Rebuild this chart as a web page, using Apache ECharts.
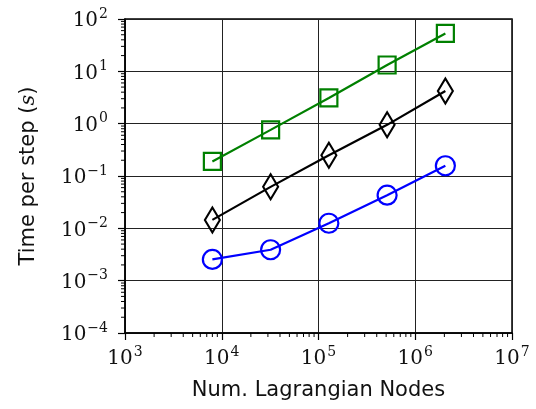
<!DOCTYPE html>
<html><head><meta charset="utf-8">
<script src="https://cdn.jsdelivr.net/npm/echarts@6/dist/echarts.min.js"></script>
<style>html,body{margin:0;padding:0;background:#fff}#c{width:536px;height:409px}</style>
</head><body><div id="c"></div>
<script>
const nodes = [8000, 32000, 128000, 512000, 2048000];
const greenTimes = [0.19, 0.76, 3.1, 13.2, 53];
const blackTimes = [0.0145, 0.062, 0.25, 0.95, 4.2];
const blueTimes = [0.00255, 0.0039, 0.0125, 0.043, 0.157];
const xMinorTicks = [2e3,3e3,4e3,5e3,6e3,7e3,8e3,9e3,2e4,3e4,4e4,5e4,6e4,7e4,8e4,9e4,2e5,3e5,4e5,5e5,6e5,7e5,8e5,9e5,2e6,3e6,4e6,5e6,6e6,7e6,8e6,9e6];
const yMinorTicks = [2e-4,3e-4,4e-4,5e-4,6e-4,7e-4,8e-4,9e-4,2e-3,3e-3,4e-3,5e-3,6e-3,7e-3,8e-3,9e-3,2e-2,3e-2,4e-2,5e-2,6e-2,7e-2,8e-2,9e-2,0.2,0.3,0.4,0.5,0.6,0.7,0.8,0.9,2,3,4,5,6,7,8,9,20,30,40,50,60,70,80,90];

const XMIN = 1e3, XMAX = 1e7, YMIN = 1e-4, YMAX = 1e2;
const serif = '"DejaVu Serif", "Liberation Serif", serif';
const sans = '"DejaVu Sans", sans-serif';

function powLabel(v) {
  const e = Math.round(Math.log10(v));
  const s = e < 0 ? '\u2212' + (-e) : String(e);
  return '{b|10}{e|' + s + '}';
}
const richPow = {
  b: { fontFamily: serif, fontSize: 20, color: '#111', lineHeight: 24, verticalAlign: 'bottom' },
  e: { fontFamily: serif, fontSize: 14, color: '#111', lineHeight: 24, verticalAlign: 'top', padding: [0,0,0,1] }
};

const chart = echarts.init(document.getElementById('c'), null, { renderer: 'canvas' });

function mkLine(data, color, symbol, size) {
  return {
    type: 'line',
    data: nodes.map((x, i) => [x, data[i]]),
    symbol: symbol,
    symbolSize: size,
    showSymbol: true,
    lineStyle: { color: color, width: 2.2 },
    itemStyle: { color: 'rgba(0,0,0,0)', borderColor: color, borderWidth: 2.2 },
    emphasis: { disabled: true },
    animation: false,
    z: 5
  };
}

chart.setOption({
  animation: false,
  grid: { left: 125, right: 24, top: 19, bottom: 76, show: true, borderColor: '#000', borderWidth: 1.5, backgroundColor: 'transparent' },
  xAxis: {
    type: 'log', logBase: 10, min: XMIN, max: XMAX,
    name: 'Num. Lagrangian Nodes', nameLocation: 'middle', nameGap: 47,
    nameTextStyle: { fontFamily: sans, fontSize: 21, color: '#111' },
    axisLine: { lineStyle: { color: '#000', width: 1.5 } },
    axisTick: { show: true, inside: false, length: 7, lineStyle: { color: '#000', width: 1.2 } },
    axisLabel: { formatter: powLabel, rich: richPow, margin: 12 },
    splitLine: { show: true, lineStyle: { color: '#222', width: 1 } },
    minorTick: { show: false }
  },
  yAxis: {
    type: 'log', logBase: 10, min: YMIN, max: YMAX,
    name: '{n|Time per step (}{i|s}{n|)}', nameLocation: 'middle', nameGap: 86,
    nameTextStyle: { rich: {
      n: { fontFamily: sans, fontSize: 21, color: '#111' },
      i: { fontFamily: serif, fontStyle: 'italic', fontSize: 21, color: '#111' }
    } },
    axisLine: { lineStyle: { color: '#000', width: 1.5 } },
    axisTick: { show: true, inside: false, length: 7, lineStyle: { color: '#000', width: 1.2 } },
    axisLabel: { formatter: powLabel, rich: richPow, margin: 17 },
    splitLine: { show: true, lineStyle: { color: '#222', width: 1 } },
    minorTick: { show: false }
  },
  series: [
    mkLine(greenTimes, '#008000', 'rect', 17),
    mkLine(blackTimes, '#000000', 'diamond', [15, 25]),
    mkLine(blueTimes, '#0000ff', 'circle', 19),
    {
      type: 'custom', clip: false, silent: true, animation: false, z: 3,
      data: xMinorTicks.map(v => [v, YMIN]),
      renderItem: function (params, api) {
        const p = api.coord([api.value(0), api.value(1)]);
        return { type: 'line', shape: { x1: p[0], y1: p[1], x2: p[0], y2: p[1] + 4 }, style: { stroke: '#000', lineWidth: 1 } };
      }
    },
    {
      type: 'custom', clip: false, silent: true, animation: false, z: 3,
      data: yMinorTicks.map(v => [XMIN, v]),
      renderItem: function (params, api) {
        const p = api.coord([api.value(0), api.value(1)]);
        return { type: 'line', shape: { x1: p[0], y1: p[1], x2: p[0] - 4, y2: p[1] }, style: { stroke: '#000', lineWidth: 1 } };
      }
    }
  ]
});
</script>
</body></html>
